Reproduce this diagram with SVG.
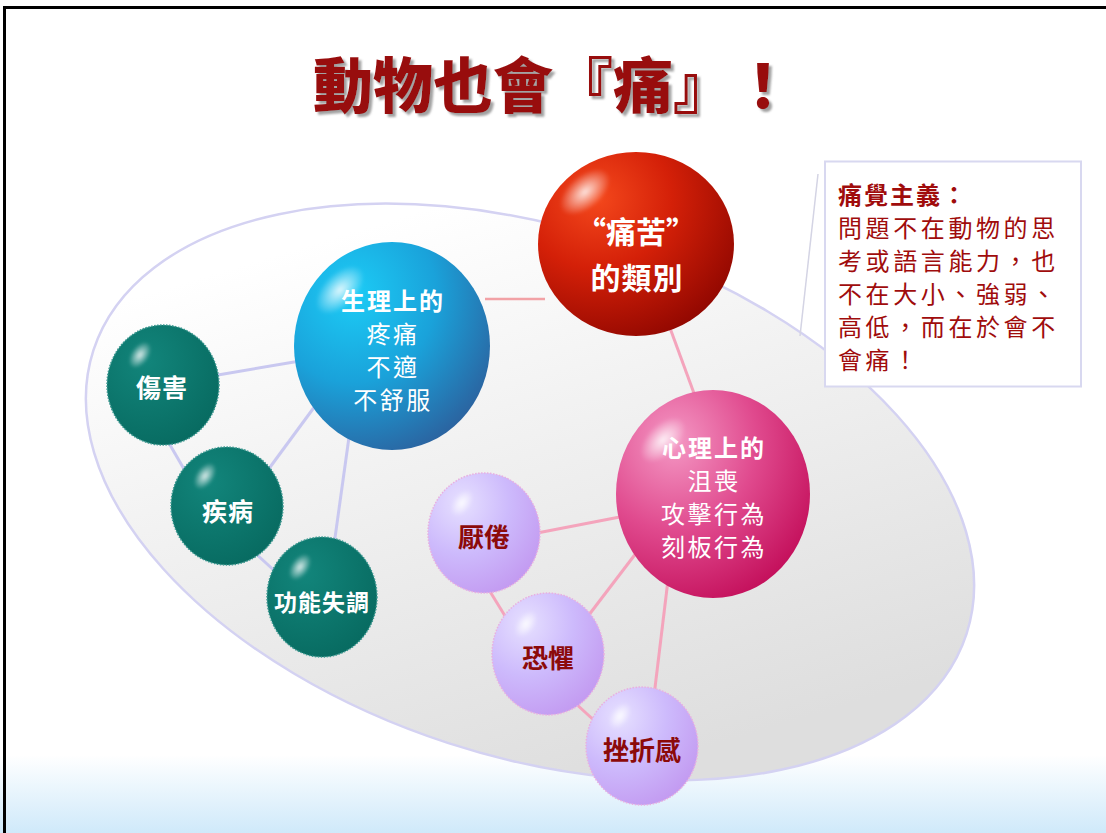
<svg xmlns="http://www.w3.org/2000/svg" width="1106" height="833" viewBox="0 0 1106 833">
<defs>
<linearGradient id="band" x1="0" y1="0" x2="0" y2="1"><stop offset="0" stop-color="#ffffff"/><stop offset="1" stop-color="#cfe9fa"/></linearGradient>
<linearGradient id="ell" gradientUnits="userSpaceOnUse" x1="380" y1="230" x2="720" y2="720"><stop offset="0" stop-color="#ffffff"/><stop offset="0.35" stop-color="#f3f3f3"/><stop offset="1" stop-color="#dedede"/></linearGradient>
<radialGradient id="gRed" cx="0.3" cy="0.25" r="0.85"><stop offset="0" stop-color="#f4481c"/><stop offset="0.45" stop-color="#d42008"/><stop offset="1" stop-color="#8e0600"/></radialGradient>
<radialGradient id="gBlue" cx="0.3" cy="0.25" r="0.85"><stop offset="0" stop-color="#1cccf6"/><stop offset="0.5" stop-color="#1aa2da"/><stop offset="1" stop-color="#2c5f9c"/></radialGradient>
<radialGradient id="gPink" cx="0.3" cy="0.25" r="0.85"><stop offset="0" stop-color="#f498c4"/><stop offset="0.5" stop-color="#e04a8e"/><stop offset="1" stop-color="#c20c58"/></radialGradient>
<radialGradient id="gTeal" cx="0.35" cy="0.3" r="0.8"><stop offset="0" stop-color="#12857b"/><stop offset="1" stop-color="#07695f"/></radialGradient>
<radialGradient id="gLav" cx="0.3" cy="0.25" r="0.85"><stop offset="0" stop-color="#e6e0ff"/><stop offset="0.5" stop-color="#cdbafc"/><stop offset="1" stop-color="#c298f0"/></radialGradient>
<radialGradient id="hl" cx="0.5" cy="0.5" r="0.5"><stop offset="0" stop-color="#ffffff" stop-opacity="0.85"/><stop offset="1" stop-color="#ffffff" stop-opacity="0"/></radialGradient>
<filter id="blur" x="-50%" y="-50%" width="200%" height="200%"><feGaussianBlur stdDeviation="1.5"/></filter>
<filter id="tsh" x="-10%" y="-20%" width="120%" height="150%"><feDropShadow dx="3" dy="3" stdDeviation="1.2" flood-color="#8a8a8a" flood-opacity="0.8"/></filter>
</defs>
<style>
.t{font-family:"Noto Sans CJK TC","Noto Sans CJK SC",sans-serif;text-anchor:middle}
.w{fill:#ffffff;font-size:24px;letter-spacing:2.5px}
.wb{fill:#ffffff;font-weight:bold}
.dr{fill:#8c0a0a;font-weight:bold}
.c1{stroke:#c9c8f0;stroke-width:3;fill:none}
.c2{stroke:#f4a4bc;stroke-width:3;fill:none}
.teal{fill:url(#gTeal);stroke:#3a9890;stroke-width:1.5;stroke-dasharray:1.5 1.5}
.lav{fill:url(#gLav);stroke:#e8b0e0;stroke-width:1.5;stroke-dasharray:1.5 1.5}
.box{font-family:"Noto Sans CJK TC","Noto Sans CJK SC",sans-serif;fill:#a00c0c;font-size:24px;letter-spacing:3.6px}
</style>
<rect x="0" y="0" width="1106" height="833" fill="#ffffff"/>
<rect x="0" y="755" width="1106" height="78" fill="url(#band)"/>
<path d="M4.5,833 V7.5 H1106" fill="none" stroke="#000000" stroke-width="3"/>

<g id="title">
<text x="313" y="108" class="t" style="text-anchor:start;font-size:60px;font-weight:900;fill:#980c0c" filter="url(#tsh)">動物也會『痛』！</text>
</g>

<g id="background-ellipse">
<ellipse cx="530" cy="492" rx="459" ry="264" transform="rotate(18 530 492)" fill="url(#ell)" stroke="#d4d2f2" stroke-width="2.5"/>
</g>

<g id="callout">
<line x1="818" y1="174" x2="800" y2="336" stroke="#d4d4e4" stroke-width="1.5"/>
<rect x="825" y="161.5" width="256" height="225" fill="#ffffff" stroke="#d8d8f0" stroke-width="2"/>
<text class="box" x="838" y="204" style="font-weight:bold;letter-spacing:2px">痛覺主義：</text>
<text class="box" x="838" y="237">問題不在動物的思</text>
<text class="box" x="838" y="270">考或語言能力，也</text>
<text class="box" x="838" y="303">不在大小、強弱、</text>
<text class="box" x="838" y="336">高低，而在於會不</text>
<text class="box" x="838" y="369">會痛！</text>
</g>

<g id="connectors">
<line class="c2" x1="485" y1="299" x2="545" y2="299" style="stroke:#f2a2a6;stroke-width:2.5"/>
<line class="c2" x1="670" y1="328" x2="695" y2="396"/>
<line class="c1" x1="212" y1="376" x2="300" y2="361"/>
<line class="c1" x1="265" y1="474" x2="318" y2="402"/>
<line class="c1" x1="334" y1="545" x2="350" y2="430"/>
<line class="c1" x1="166" y1="438" x2="188" y2="476"/>
<line class="c1" x1="254" y1="552" x2="278" y2="574"/>
<line class="c2" x1="532" y1="534" x2="625" y2="516"/>
<line class="c2" x1="585" y1="620" x2="640" y2="548"/>
<line class="c2" x1="668" y1="580" x2="654" y2="696"/>
<line class="c2" x1="486" y1="585" x2="510" y2="624"/>
<line class="c2" x1="574" y1="702" x2="598" y2="724"/>
</g>

<g id="node-red">
<ellipse cx="636" cy="244" rx="98" ry="92" fill="url(#gRed)"/>
<ellipse cx="585" cy="192" rx="30" ry="17" transform="rotate(-40 585 192)" fill="url(#hl)" filter="url(#blur)"/>
<text class="t wb" x="636" y="243" style="font-size:30px">“痛苦”</text>
<text class="t wb" x="637" y="289" style="font-size:30px;letter-spacing:1px">的類別</text>
</g>

<g id="node-blue">
<ellipse cx="392" cy="346" rx="98" ry="104" fill="url(#gBlue)"/>
<ellipse cx="340" cy="290" rx="30" ry="17" transform="rotate(-45 340 290)" fill="url(#hl)" filter="url(#blur)"/>
<text class="t wb" x="393" y="310" style="font-size:24px;letter-spacing:2px">生理上的</text>
<text class="t w" x="393" y="343">疼痛</text>
<text class="t w" x="393" y="376">不適</text>
<text class="t w" x="393" y="409">不舒服</text>
</g>

<g id="node-pink">
<ellipse cx="713" cy="494" rx="97" ry="104" fill="url(#gPink)"/>
<ellipse cx="663" cy="440" rx="28" ry="16" transform="rotate(-45 663 440)" fill="url(#hl)" filter="url(#blur)"/>
<text class="t wb" x="714" y="457" style="font-size:24px;letter-spacing:2px">心理上的</text>
<text class="t w" x="714" y="490">沮喪</text>
<text class="t w" x="714" y="523">攻擊行為</text>
<text class="t w" x="714" y="556">刻板行為</text>
</g>

<g id="node-injury">
<ellipse class="teal" cx="163" cy="385" rx="56" ry="60"/>
<ellipse cx="140" cy="355" rx="15" ry="9" transform="rotate(-55 140 355)" fill="url(#hl)" filter="url(#blur)"/>
<text class="t wb" x="162" y="397" style="font-size:25px;letter-spacing:1px">傷害</text>
</g>

<g id="node-disease">
<ellipse class="teal" cx="227" cy="506" rx="56" ry="59"/>
<ellipse cx="205" cy="476" rx="15" ry="9" transform="rotate(-55 205 476)" fill="url(#hl)" filter="url(#blur)"/>
<text class="t wb" x="228" y="521" style="font-size:25px;letter-spacing:1px">疾病</text>
</g>

<g id="node-dysfunction">
<ellipse class="teal" cx="322" cy="597" rx="55" ry="60"/>
<ellipse cx="300" cy="567" rx="15" ry="9" transform="rotate(-55 300 567)" fill="url(#hl)" filter="url(#blur)"/>
<text class="t wb" x="322" y="611" style="font-size:23px;letter-spacing:1px">功能失調</text>
</g>

<g id="node-boredom">
<ellipse class="lav" cx="484" cy="533" rx="56" ry="60"/>
<ellipse cx="462" cy="503" rx="15" ry="9" transform="rotate(-55 462 503)" fill="url(#hl)" filter="url(#blur)"/>
<text class="t dr" x="484" y="547" style="font-size:26px">厭倦</text>
</g>

<g id="node-fear">
<ellipse class="lav" cx="548" cy="654" rx="56" ry="61"/>
<ellipse cx="526" cy="624" rx="15" ry="9" transform="rotate(-55 526 624)" fill="url(#hl)" filter="url(#blur)"/>
<text class="t dr" x="548" y="668" style="font-size:26px">恐懼</text>
</g>

<g id="node-frustration">
<ellipse class="lav" cx="642" cy="746" rx="56" ry="59"/>
<ellipse cx="620" cy="716" rx="15" ry="9" transform="rotate(-55 620 716)" fill="url(#hl)" filter="url(#blur)"/>
<text class="t dr" x="642" y="760" style="font-size:26px">挫折感</text>
</g>
</svg>
